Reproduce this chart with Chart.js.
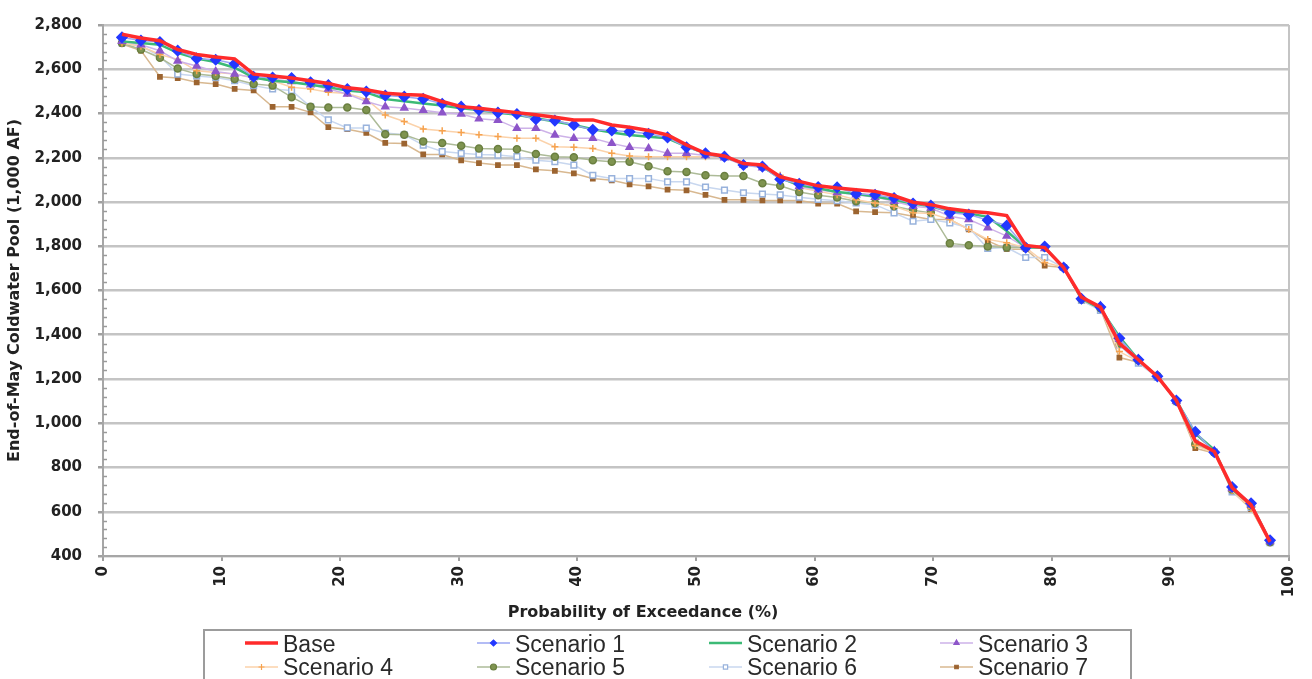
<!DOCTYPE html>
<html>
<head>
<meta charset="utf-8">
<title>End-of-May Coldwater Pool</title>
<script src="https://cdn.jsdelivr.net/npm/chart.js@4.4.1/dist/chart.umd.min.js"></script>
<style>
  html, body { margin: 0; padding: 0; background: #ffffff; }
  #wrap { width: 1312px; height: 679px; }
</style>
</head>
<body>
<div id="wrap"><canvas id="poolChart" width="1312" height="679"></canvas></div>
<script>
// probability of exceedance (%) for the 62 ranked years
const exceedance = [1.6, 3.2, 4.8, 6.3, 7.9, 9.5, 11.1, 12.7, 14.3, 15.9, 17.5, 19.0, 20.6, 22.2, 23.8, 25.4,
  27.0, 28.6, 30.2, 31.7, 33.3, 34.9, 36.5, 38.1, 39.7, 41.3, 42.9, 44.4, 46.0, 47.6, 49.2, 50.8,
  52.4, 54.0, 55.6, 57.1, 58.7, 60.3, 61.9, 63.5, 65.1, 66.7, 68.3, 69.8, 71.4, 73.0, 74.6, 76.2,
  77.8, 79.4, 81.0, 82.5, 84.1, 85.7, 87.3, 88.9, 90.5, 92.1, 93.7, 95.2, 96.8, 98.4];

// end-of-May coldwater pool, 1,000 AF
const base = [2758, 2741, 2729, 2689, 2667, 2655, 2647, 2578, 2570, 2560, 2548, 2536, 2516, 2507, 2492, 2486, 2482, 2454,
  2431, 2424, 2414, 2404, 2394, 2383, 2371, 2371, 2348, 2338, 2323, 2303, 2258, 2220, 2208, 2174, 2167, 2114,
  2093, 2073, 2063, 2055, 2048, 2028, 1999, 1988, 1969, 1958, 1951, 1939, 1804, 1794, 1704, 1570, 1525, 1361, 1287, 1212, 1103, 920,
  872, 709, 631, 464];
const scenario1 = [2744, 2730, 2723, 2684, 2649, 2643, 2625, 2566, 2563, 2560, 2541, 2529, 2511, 2499, 2481, 2476, 2466, 2444,
  2431, 2416, 2404, 2398, 2374, 2368, 2348, 2326, 2323, 2318, 2308, 2292, 2247, 2220, 2205, 2167, 2160, 2103,
  2082, 2068, 2066, 2037, 2033, 2018, 1993, 1984, 1951, 1943, 1918, 1894, 1794, 1799, 1704, 1563, 1525, 1384, 1287, 1212, 1103, 961,
  869, 712, 638, 471];
const scenario2 = [2726, 2719, 2711, 2674, 2649, 2633, 2607, 2563, 2548, 2541, 2530, 2519, 2504, 2496, 2465, 2455, 2445, 2436,
  2424, 2416, 2404, 2394, 2379, 2364, 2348, 2329, 2314, 2303, 2295, 2288, 2250, 2220, 2202, 2177, 2160, 2108,
  2077, 2062, 2045, 2037, 2025, 2010, 1993, 1981, 1958, 1948, 1933, 1869, 1794, 1794, 1704, 1563, 1518, 1391, 1287, 1212, 1103, 954,
  880, 701, 634, 468];
const scenario3 = [2726, 2711, 2684, 2637, 2615, 2590, 2578, 2563, 2556, 2545, 2530, 2511, 2488, 2454, 2430, 2425, 2415, 2403,
  2398, 2376, 2370, 2333, 2333, 2303, 2288, 2288, 2265, 2247, 2242, 2220, 2220, 2210, 2200, 2167, 2155, 2110,
  2070, 2055, 2043, 2033, 2022, 2003, 1981, 1973, 1936, 1921, 1884, 1846, 1794, 1790, 1704, 1565, 1530, 1380, 1290, 1215, 1100, 950,
  875, 705, 632, 466];
const scenario4 = [2719, 2704, 2667, 2644, 2593, 2585, 2578, 2560, 2548, 2519, 2511, 2496, 2490, 2465, 2393, 2364, 2330, 2322,
  2314, 2304, 2296, 2288, 2288, 2250, 2247, 2242, 2220, 2208, 2205, 2205, 2205, 2205, 2202, 2167, 2160, 2121,
  2065, 2048, 2033, 2010, 1996, 1981, 1951, 1948, 1921, 1876, 1831, 1816, 1794, 1727, 1704, 1555, 1525, 1324, 1279, 1212, 1097, 900,
  865, 695, 615, 460];
const scenario5 = [2719, 2689, 2652, 2603, 2578, 2570, 2556, 2533, 2526, 2474, 2430, 2427, 2427, 2416, 2306, 2304, 2274, 2267,
  2254, 2242, 2240, 2238, 2217, 2205, 2202, 2189, 2182, 2182, 2162, 2139, 2136, 2121, 2117, 2117, 2085, 2073,
  2045, 2030, 2020, 2003, 1996, 1981, 1963, 1951, 1813, 1804, 1799, 1794, 1794, 1794, 1704, 1560, 1520, 1360, 1285, 1215, 1100, 905,
  868, 700, 625, 462];
const scenario6 = [2719, 2704, 2659, 2578, 2570, 2563, 2548, 2526, 2511, 2504, 2430, 2371, 2335, 2334, 2312, 2304, 2257, 2228,
  2220, 2215, 2212, 2205, 2189, 2182, 2167, 2121, 2106, 2106, 2106, 2091, 2091, 2068, 2054, 2042, 2036, 2032,
  2022, 2012, 2006, 1996, 1988, 1951, 1913, 1921, 1906, 1884, 1790, 1794, 1749, 1749, 1704, 1555, 1510, 1354, 1272, 1207, 1097, 910,
  870, 690, 620, 460];
const scenario7 = [2714, 2684, 2566, 2560, 2541, 2533, 2511, 2504, 2430, 2430, 2405, 2338, 2329, 2312, 2267, 2264, 2215, 2215,
  2188, 2176, 2167, 2167, 2147, 2141, 2129, 2106, 2098, 2080, 2071, 2056, 2053, 2032, 2010, 2010, 2007, 2007,
  2007, 1993, 1993, 1958, 1954, 1951, 1936, 1921, 1921, 1876, 1824, 1787, 1787, 1712, 1704, 1555, 1515, 1297, 1276, 1212, 1097, 887,
  865, 694, 612, 459];

const seriesNames = ['Base', 'Scenario 1', 'Scenario 2', 'Scenario 3', 'Scenario 4', 'Scenario 5', 'Scenario 6', 'Scenario 7'];
const seriesValues = [base, scenario1, scenario2, scenario3, scenario4, scenario5, scenario6, scenario7];

const yTitle = 'End-of-May Coldwater Pool (1,000 AF)';
const xTitle = 'Probability of Exceedance (%)';

// line / marker styling per series
const styles = [
  { line: '#ff2b2b', width: 3.5, point: false },
  { line: '#9aa6f2', width: 1.5, point: 'rectRot', fill: '#2338ff', edge: '#2338ff', r: 5 },
  { line: '#3cba76', width: 2.5, point: false },
  { line: '#cdb2e8', width: 1.5, point: 'triangle', fill: '#8d55c9', edge: '#8d55c9', r: 4 },
  { line: '#fbd2aa', width: 1.5, point: 'cross', fill: '#f6a24e', edge: '#f6a24e', r: 3.5 },
  { line: '#adbb98', width: 1.5, point: 'circle', fill: '#7f9450', edge: '#6a7f40', r: 3.5 },
  { line: '#c8d7ef', width: 1.5, point: 'rect', fill: '#ffffff', edge: '#98b2dc', r: 4 },
  { line: '#d8b890', width: 1.5, point: 'rect', fill: '#9c6430', edge: '#9c6430', r: 3 }
];

const tickFont = { family: 'DejaVu Sans', size: 15, weight: 'bold' };
const titleFont = { family: 'DejaVu Sans', size: 16, weight: 'bold' };

const datasets = seriesValues.map((vals, k) => {
  const s = styles[k];
  return {
    label: seriesNames[k],
    data: exceedance.map((p, i) => ({ x: p, y: vals[i] })),
    borderColor: s.line,
    borderWidth: s.width,
    backgroundColor: s.fill || s.line,
    pointStyle: s.point || 'circle',
    pointRadius: s.point ? s.r : 0,
    pointBackgroundColor: s.fill || s.line,
    pointBorderColor: s.edge || s.line,
    pointBorderWidth: 1.5,
    tension: 0,
    fill: false
  };
});

// short inward ticks every 40 on the value axis
const minorTicks = {
  id: 'minorTicks',
  afterDraw(chart) {
    const y = chart.scales.y, ctx = chart.ctx, left = chart.chartArea.left;
    ctx.save();
    ctx.strokeStyle = '#9a9a9a';
    ctx.lineWidth = 1.5;
    for (let v = 440; v < 2800; v += 40) {
      if (v % 200 === 0) continue;
      const py = Math.round(y.getPixelForValue(v)) + 0.5;
      ctx.beginPath();
      ctx.moveTo(left, py);
      ctx.lineTo(left + 4, py);
      ctx.stroke();
    }
    ctx.restore();
  }
};

// x title and the boxed two-row legend under the plot
const bottomBlock = {
  id: 'bottomBlock',
  afterDraw(chart) {
    const ctx = chart.ctx;
    ctx.save();
    ctx.fillStyle = '#222';
    ctx.font = 'bold 16px "DejaVu Sans"';
    ctx.textAlign = 'center';
    ctx.textBaseline = 'alphabetic';
    ctx.fillText(xTitle, 643, 617);

    ctx.strokeStyle = '#9c9c9c';
    ctx.lineWidth = 2;
    ctx.strokeRect(204, 630, 927, 60);

    const cols = [245, 477, 709, 940];
    const lineY = [643, 667];
    const baseY = [652, 675];
    ctx.font = '23px "Liberation Sans", Arial, sans-serif';
    ctx.textAlign = 'left';
    chart.data.datasets.forEach((ds, k) => {
      const cx = cols[k % 4], row = Math.floor(k / 4), s = styles[k];
      ctx.strokeStyle = ds.borderColor;
      ctx.lineWidth = ds.borderWidth;
      ctx.beginPath();
      ctx.moveTo(cx, lineY[row]);
      ctx.lineTo(cx + 33, lineY[row]);
      ctx.stroke();
      if (s.point) {
        ctx.fillStyle = s.fill;
        ctx.strokeStyle = s.edge;
        ctx.lineWidth = 1.2;
        Chart.helpers.drawPoint(ctx, { pointStyle: s.point, radius: Math.min(s.r, 3.5) - 0.5, rotation: 0, borderWidth: 1.2 }, cx + 16.5, lineY[row]);
      }
      ctx.fillStyle = '#2a2a2a';
      ctx.fillText(ds.label, cx + 38, baseY[row]);
    });
    ctx.restore();
  }
};

new Chart(document.getElementById('poolChart'), {
  type: 'line',
  data: { datasets: datasets },
  options: {
    responsive: false,
    animation: false,
    devicePixelRatio: 1,
    layout: { padding: { top: 17, right: 21, left: 0, bottom: 0 } },
    plugins: { legend: { display: false }, tooltip: { enabled: false } },
    scales: {
      x: {
        type: 'linear',
        min: 0,
        max: 100,
        ticks: { stepSize: 10, minRotation: 90, maxRotation: 90, font: tickFont, color: '#222', padding: 5 },
        grid: {
          color: c => (c.tick && c.tick.value === 100 ? '#c4c4c4' : 'rgba(0,0,0,0)'),
          lineWidth: 2,
          tickColor: '#a0a0a0',
          tickLength: 5
        },
        border: { color: '#a6a6a6', width: 2 },
        afterFit: s => { s.height = 123; }
      },
      y: {
        min: 400,
        max: 2800,
        ticks: { stepSize: 200, font: tickFont, color: '#222', padding: 16 },
        grid: { color: '#c4c4c4', lineWidth: 2.5, tickColor: '#a0a0a0', tickLength: 5 },
        border: { color: '#a6a6a6', width: 2 },
        title: { display: true, text: yTitle, font: titleFont, color: '#222', padding: { top: 5, bottom: 0 } },
        afterFit: s => { s.width = 103; }
      }
    }
  },
  plugins: [minorTicks, bottomBlock]
});
</script>
</body>
</html>
